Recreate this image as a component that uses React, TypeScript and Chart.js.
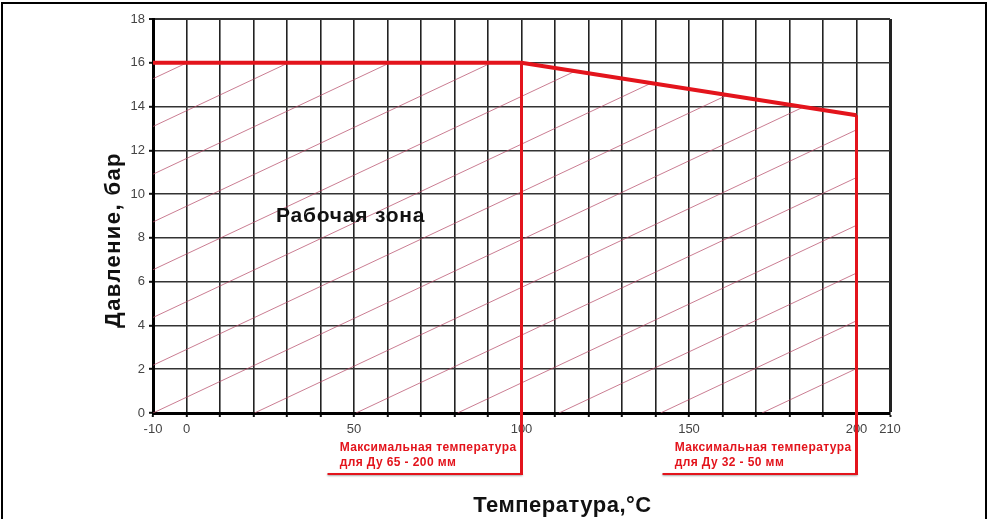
import React, { useEffect, useRef } from 'react';
import { Chart, registerables } from 'chart.js';

Chart.register(...registerables);

// ---- data ----
const boundaryTemps = [-10, 100, 200];
const boundaryPressures = [16, 16, 13.6];
const limitTemps = [100, 200];
const limitNotes1 = ['Максимальная температура', 'Максимальная температура'];
const limitNotes2 = ['для Ду 65 - 200 мм', 'для Ду 32 - 50 мм'];
const xTickLabels = [-10, 0, 50, 100, 150, 200, 210];
const xMin = -10;
const xMax = 210;
const xStep = 10;
const yMin = 0;
const yMax = 18;
const yStep = 2;
const zoneLabel = 'Рабочая зона';
const zoneLabelTemp = 49;
const zoneLabelPressure = 9;
const xTitle = 'Температура,°C';
const yTitle = 'Давление, бар';

// ---- style ----
const RED = '#e3141c';
const HATCH_STEP = 30.3; // spacing of hatch lines along the temperature axis
const HATCH_SLOPE = 0.072; // pressure units per temperature unit
const FONT = '"Liberation Sans", Arial, sans-serif';

const pressureAt = (t: number) => {
  const i = boundaryTemps.indexOf(t);
  return boundaryPressures[i];
};

const decorPlugin = {
  id: 'decor',
  beforeDatasetsDraw(chart: any) {
    const { ctx, scales } = chart;
    const xs = scales.x;
    const ys = scales.y;
    ctx.save();
    ctx.beginPath();
    boundaryTemps.forEach((t, i) => {
      const px = xs.getPixelForValue(t);
      const py = ys.getPixelForValue(boundaryPressures[i]);
      if (i === 0) ctx.moveTo(px, py);
      else ctx.lineTo(px, py);
    });
    ctx.lineTo(xs.getPixelForValue(boundaryTemps[boundaryTemps.length - 1]), ys.getPixelForValue(yMin));
    ctx.lineTo(xs.getPixelForValue(boundaryTemps[0]), ys.getPixelForValue(yMin));
    ctx.closePath();
    ctx.clip();
    ctx.strokeStyle = 'rgba(180,70,100,0.7)';
    ctx.lineWidth = 1;
    for (let k = -12; k < 10; k++) {
      const x0 = xMin + k * HATCH_STEP;
      const x1 = x0 + (yMax - yMin) / HATCH_SLOPE;
      ctx.beginPath();
      ctx.moveTo(xs.getPixelForValue(x0), ys.getPixelForValue(yMin));
      ctx.lineTo(xs.getPixelForValue(x1), ys.getPixelForValue(yMax));
      ctx.stroke();
    }
    ctx.restore();
  },
  afterDraw(chart: any) {
    const { ctx, scales, chartArea } = chart;
    const xs = scales.x;
    const ys = scales.y;
    ctx.save();

    // working zone label
    ctx.fillStyle = '#111';
    ctx.font = `bold 21px ${FONT}`;
    (ctx as any).letterSpacing = '0.8px';
    ctx.textAlign = 'center';
    ctx.textBaseline = 'middle';
    ctx.fillText(zoneLabel, xs.getPixelForValue(zoneLabelTemp), ys.getPixelForValue(zoneLabelPressure));

    // limit notes
    const base = ys.getPixelForValue(yMin);
    limitTemps.forEach((t, i) => {
      const lx = xs.getPixelForValue(t);
      const bottom = base + 61;
      ctx.save();
      ctx.shadowColor = 'rgba(0,0,0,0.35)';
      ctx.shadowBlur = 2;
      ctx.shadowOffsetY = 1;
      ctx.strokeStyle = RED;
      ctx.lineWidth = 2;
      ctx.beginPath();
      ctx.moveTo(lx - 194, bottom);
      ctx.lineTo(lx + 1, bottom);
      ctx.stroke();
      ctx.restore();
      ctx.strokeStyle = RED;
      ctx.lineWidth = 3;
      ctx.beginPath();
      ctx.moveTo(lx, base);
      ctx.lineTo(lx, bottom + 1);
      ctx.stroke();

      ctx.fillStyle = RED;
      ctx.font = `bold 12px ${FONT}`;
      (ctx as any).letterSpacing = '0.4px';
      ctx.textAlign = 'left';
      ctx.textBaseline = 'alphabetic';
      const w = ctx.measureText(limitNotes1[i]).width;
      const left = lx - 5 - w;
      ctx.fillText(limitNotes1[i], left, base + 38);
      ctx.fillText(limitNotes2[i], left, base + 53);
    });

    // axis titles
    ctx.fillStyle = '#111';
    ctx.font = `bold 22px ${FONT}`;
    (ctx as any).letterSpacing = '0.5px';
    ctx.textAlign = 'center';
    ctx.textBaseline = 'middle';
    ctx.fillText(xTitle, (chartArea.left + chartArea.right) / 2 + 41, chartArea.bottom + 93);

    ctx.save();
    (ctx as any).letterSpacing = '1.4px';
    ctx.translate(chartArea.left - 39, (chartArea.top + chartArea.bottom) / 2 + 24);
    ctx.rotate(-Math.PI / 2);
    ctx.fillText(yTitle, 0, 0);
    ctx.restore();

    ctx.restore();
  },
};

export default function App() {
  const ref = useRef<HTMLCanvasElement | null>(null);

  useEffect(() => {
    if (!ref.current) return;
    const datasets: any[] = [
      {
        data: boundaryTemps.map((t, i) => ({ x: t, y: boundaryPressures[i] })),
        borderColor: RED,
        borderWidth: 4,
        pointRadius: 0,
        tension: 0,
      },
      ...limitTemps.map((t) => ({
        data: [
          { x: t, y: pressureAt(t) },
          { x: t, y: yMin },
        ],
        borderColor: RED,
        borderWidth: 3,
        pointRadius: 0,
      })),
    ];

    const chart = new Chart(ref.current, {
      type: 'line',
      data: { datasets },
      plugins: [decorPlugin],
      options: {
        animation: false,
        responsive: false,
        devicePixelRatio: 1,
        layout: { padding: { left: 0, top: 19, right: 101, bottom: 66 } },
        plugins: { legend: { display: false }, tooltip: { enabled: false }, title: { display: false } },
        scales: {
          x: {
            type: 'linear',
            min: xMin,
            max: xMax,
            afterFit: (axis: any) => {
              axis.height = 40;
            },
            ticks: {
              stepSize: xStep,
              autoSkip: false,
              maxRotation: 0,
              padding: 5,
              color: '#444',
              font: { family: FONT, size: 13 },
              callback: (v: any) => (xTickLabels.includes(Number(v)) ? String(v) : ''),
            },
            grid: {
              color: '#222',
              lineWidth: (c: any) => (c.tick && c.tick.value === xMax ? 3 : 1.6),
              tickLength: 4,
              tickColor: '#111',
              tickWidth: 2,
            },
            border: { color: '#000', width: 3 },
          },
          y: {
            type: 'linear',
            min: yMin,
            max: yMax,
            afterFit: (axis: any) => {
              axis.width = 153;
            },
            ticks: {
              stepSize: yStep,
              padding: 4,
              color: '#444',
              font: { family: FONT, size: 13 },
            },
            grid: {
              color: '#333',
              lineWidth: (c: any) => (c.tick && c.tick.value === yMax ? 2 : 1.6),
              tickLength: 4,
              tickColor: '#111',
              tickWidth: 2,
            },
            border: { color: '#000', width: 3 },
          },
        },
      } as any,
    });
    return () => chart.destroy();
  }, []);

  return (
    <div style={{ position: 'fixed', left: 0, top: 0, width: 991, height: 519, background: '#fff', overflow: 'hidden' }}>
      <div
        style={{
          position: 'absolute',
          left: 1,
          top: 2,
          width: 986,
          height: 540,
          border: '2px solid #000',
          boxSizing: 'border-box',
        }}
      />
      <canvas ref={ref} width={991} height={519} style={{ position: 'absolute', left: 0, top: 0 }} />
    </div>
  );
}
